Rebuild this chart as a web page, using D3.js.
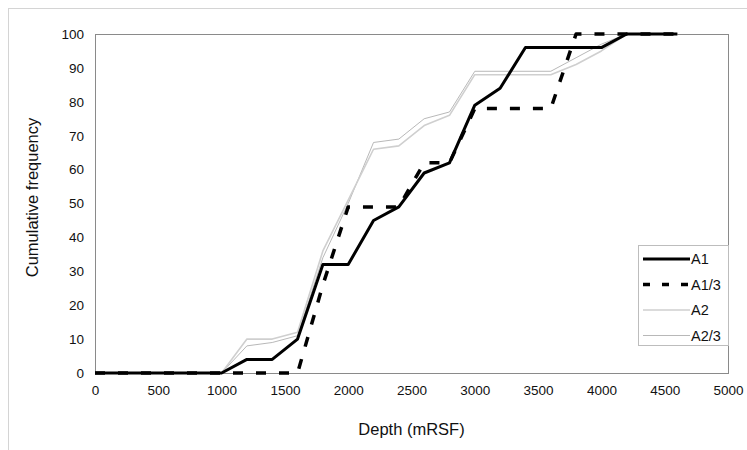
<!DOCTYPE html>
<html>
<head>
<meta charset="utf-8">
<script src="https://cdn.jsdelivr.net/npm/d3@7"></script>
<style>
  body { margin: 0; background: #fff; }
  text { font-family: "Liberation Sans", Arial, sans-serif; fill: #111; }
</style>
</head>
<body>
<div id="chart-area"></div>
<script>
// series values
var seriesNames = ["A1", "A1/3", "A2", "A2/3"];

var a1Depth = [0, 1000, 1200, 1400, 1600, 1800, 2000, 2200, 2400, 2600, 2800, 3000, 3200, 3400, 4000, 4200, 4600];
var a1Freq  = [0, 0, 4, 4, 10, 32, 32, 45, 49, 59, 62, 79, 84, 96, 96, 100, 100];

var a13Depth = [0, 1600, 1800, 2000, 2400, 2600, 2800, 3000, 3600, 3800, 4600];
var a13Freq  = [0, 0, 26, 49, 49, 62, 62, 78, 78, 100, 100];

var a2Depth = [0, 1000, 1200, 1400, 1600, 1800, 2000, 2200, 2400, 2600, 2800, 3000, 3600, 3800, 4000, 4200, 4600];
var a2Freq  = [0, 0, 10, 10, 12, 36, 51, 66, 67, 73, 76, 88, 88, 91, 95, 100, 100];

var a23Depth = [0, 1000, 1200, 1400, 1600, 1800, 2000, 2200, 2400, 2600, 2800, 3000, 3600, 3800, 4000, 4200, 4600];
var a23Freq  = [0, 0, 8, 9, 11, 34, 50, 68, 69, 75, 77, 89, 89, 93, 97, 100, 100];

var xTicks = d3.range(0, 5001, 500);
var yTicks = d3.range(0, 101, 10);

var margin = { top: 34, right: 19, bottom: 77, left: 95 };
var width = 747 - margin.left - margin.right;
var height = 450 - margin.top - margin.bottom;

var svg = d3.select("#chart-area").append("svg")
    .attr("width", 747)
    .attr("height", 450);

// outer chart frame
svg.append("rect")
    .attr("x", 8.5).attr("y", 8.5)
    .attr("width", 760).attr("height", 460)
    .attr("fill", "none")
    .attr("stroke", "#d4d4d4");

var g = svg.append("g")
    .attr("transform", "translate(" + margin.left + ", " + margin.top + ")");

var x = d3.scaleLinear().domain([0, 5000]).range([0, width]);
var y = d3.scaleLinear().domain([0, 100]).range([height, 0]);

// plot area border
g.append("rect")
    .attr("x", 0.5).attr("y", 0.5)
    .attr("width", width).attr("height", height)
    .attr("fill", "none")
    .attr("stroke", "#8a8a8a");

var xAxis = g.append("g")
    .attr("transform", "translate(0," + height + ")")
    .call(d3.axisBottom(x).tickValues(xTicks).tickFormat(d3.format("d")).tickSize(0).tickPadding(12));

var yAxis = g.append("g")
    .call(d3.axisLeft(y).tickValues(yTicks).tickFormat(d3.format("d")).tickSize(0).tickPadding(11));

[xAxis, yAxis].forEach(function(a) {
    a.select(".domain").attr("stroke", "#8a8a8a");
    a.selectAll("text")
        .attr("font-size", "13.5px")
        .attr("font-family", "'Liberation Sans', Arial, sans-serif")
        .attr("fill", "#111");
});

g.append("text")
    .attr("x", width / 2)
    .attr("y", height + 62)
    .attr("font-size", "16.5px")
    .attr("text-anchor", "middle")
    .text("Depth (mRSF)");

g.append("text")
    .attr("x", -(height / 2) + 6)
    .attr("y", -57)
    .attr("font-size", "16.5px")
    .attr("text-anchor", "middle")
    .attr("transform", "rotate(-90)")
    .text("Cumulative frequency");

var styles = [
    { color: "#000", w: 3, dash: null },
    { color: "#000", w: 3.5, dash: "10,13" },
    { color: "#cfcfcf", w: 1.6, dash: null },
    { color: "#b0b0b0", w: 0.9, dash: null }
];

var series = [
    { name: seriesNames[0], d: a1Depth, f: a1Freq, s: styles[0] },
    { name: seriesNames[1], d: a13Depth, f: a13Freq, s: styles[1] },
    { name: seriesNames[2], d: a2Depth, f: a2Freq, s: styles[2] },
    { name: seriesNames[3], d: a23Depth, f: a23Freq, s: styles[3] }
];

var line = d3.line()
    .x(function(p) { return x(p[0]); })
    .y(function(p) { return y(p[1]); });

// gray series underneath, black on top
[3, 2, 1, 0].forEach(function(i) {
    var sr = series[i];
    var pts = sr.d.map(function(v, k) { return [v, sr.f[k]]; });
    g.append("path")
        .datum(pts)
        .attr("fill", "none")
        .attr("stroke", sr.s.color)
        .attr("stroke-width", sr.s.w)
        .attr("stroke-dasharray", sr.s.dash)
        .attr("stroke-linejoin", "round")
        .attr("d", line);
});

// legend
var legend = g.append("g")
    .attr("transform", "translate(" + (width - 90) + "," + 211 + ")");

legend.append("rect")
    .attr("x", 0.5).attr("y", 0.5)
    .attr("width", 90).attr("height", 100)
    .attr("fill", "#fff")
    .attr("stroke", "#bdbdbd");

series.forEach(function(sr, i) {
    var yy = 14 + i * 25.5;
    legend.append("line")
        .attr("x1", 5).attr("x2", 52)
        .attr("y1", yy).attr("y2", yy)
        .attr("stroke", sr.s.color)
        .attr("stroke-width", sr.s.w)
        .attr("stroke-dasharray", sr.s.dash ? "7,12" : null);
    legend.append("text")
        .attr("x", 53)
        .attr("y", yy + 5)
        .attr("font-size", "14.5px")
        .text(sr.name);
});
</script>
</body>
</html>
